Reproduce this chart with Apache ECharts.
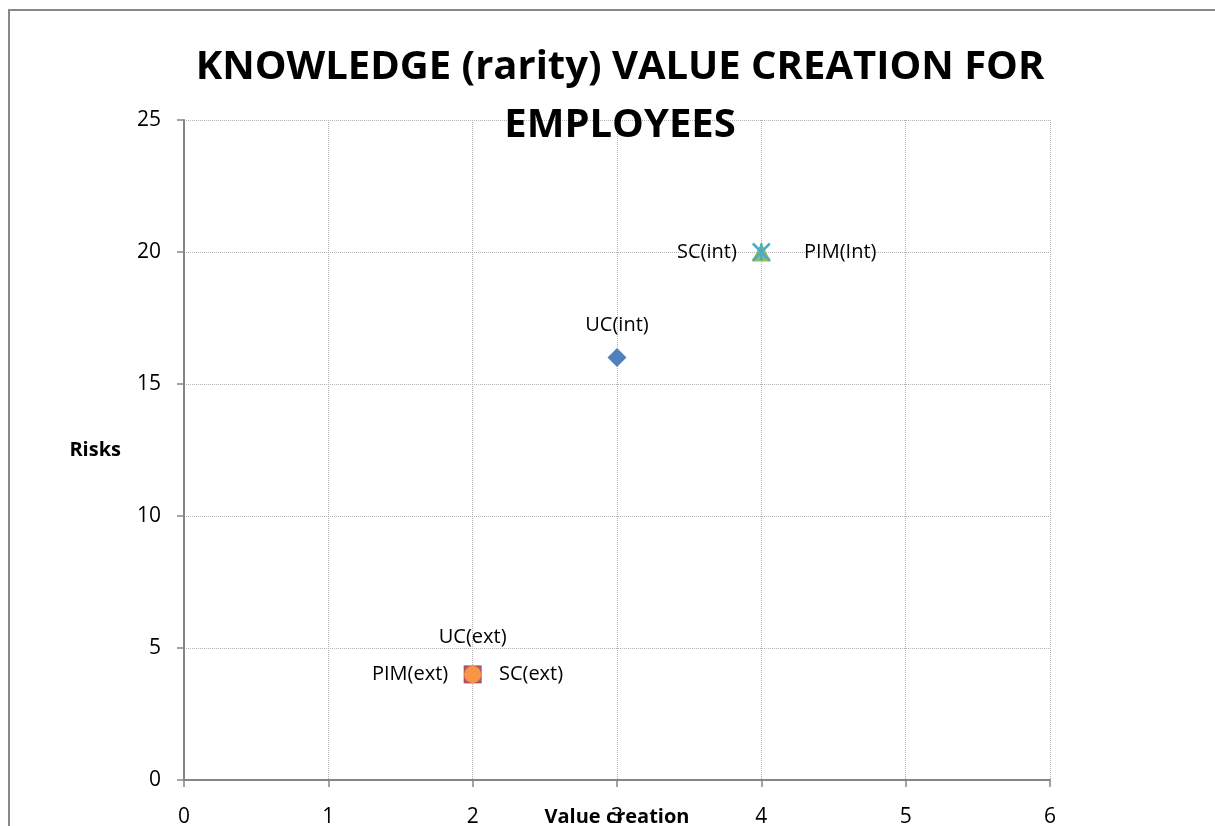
<!DOCTYPE html>
<html>
<head>
<meta charset="utf-8">
<script src="https://cdn.jsdelivr.net/npm/echarts@6/dist/echarts.min.js"></script>
<style>
  html, body { margin: 0; padding: 0; background: #fff; }
  #chart { width: 1215px; height: 826px; }
</style>
</head>
<body>
<div id="chart"></div>
<script>
// series data, one point each (Excel default series order)
const seriesNames = ['UC(int)', 'UC(ext)', 'SC(int)', 'SC(ext)', 'PIM(Int)', 'PIM(ext)']
const valueCreation = [3, 2, 4, 2, 4, 2]
const risks = [16, 4, 20, 4, 20, 4]
const xTicks = [0, 1, 2, 3, 4, 5, 6]
const yTicks = [0, 5, 10, 15, 20, 25]

const FONT = 'Open Sans'
const crossPath = 'path://M0,0L10,10M10,0L0,10'
const starPath = 'path://M0,0L10,10M10,0L0,10M5,0L5,10'

// marker look per series
const markers = [
  { symbol: 'diamond', size: 19, color: '#4F81BD', pos: 'top', dist: 13 },
  { symbol: 'rect', size: 18, color: '#C0504D', pos: 'top', dist: 18 },
  { symbol: 'triangle', size: 19, color: '#9BBB59', pos: 'left', dist: 15 },
  { symbol: crossPath, size: 16, color: '#8064A2', pos: 'right', dist: 17, stroke: true },
  { symbol: starPath, size: 17, color: '#4BACC6', pos: 'right', dist: 33, stroke: true },
  { symbol: 'circle', size: 17, color: '#F79646', pos: 'left', dist: 16 }
]

const series = seriesNames.map((name, i) => {
  const m = markers[i]
  return {
    name: name,
    type: 'scatter',
    data: [[valueCreation[i], risks[i]]],
    symbol: m.symbol,
    symbolSize: m.size,
    itemStyle: m.stroke
      ? { color: 'transparent', borderColor: m.color, borderWidth: 2.5, opacity: 1 }
      : { color: m.color, opacity: 1 },
    label: {
      show: true,
      formatter: name,
      position: m.pos,
      distance: m.dist,
      color: '#000',
      fontFamily: FONT,
      fontSize: 20
    },
    z: 2 + i
  }
})

const chart = echarts.init(document.getElementById('chart'))
chart.setOption({
  animation: false,
  title: {
    text: 'KNOWLEDGE (rarity) VALUE CREATION FOR\nEMPLOYEES',
    left: 615,
    textAlign: 'center',
    top: 34,
    textStyle: {
      fontFamily: FONT,
      fontWeight: 'bold',
      fontSize: 40,
      lineHeight: 58,
      color: '#000'
    }
  },
  graphic: [{
    type: 'polyline',
    shape: { points: [[9, 900], [9, 10], [1300, 10]] },
    style: { stroke: '#888', lineWidth: 2, fill: null },
    silent: true
  }],
  grid: { left: 184, right: 165, top: 120, bottom: 46, outerBoundsMode: 'none' },
  xAxis: {
    type: 'value',
    min: xTicks[0],
    max: xTicks[xTicks.length - 1],
    interval: 1,
    name: 'Value creation',
    nameLocation: 'middle',
    nameGap: 27,
    nameMoveOverlap: false,
    nameTextStyle: { fontFamily: FONT, fontWeight: 'bold', fontSize: 20, color: '#000' },
    axisLine: { lineStyle: { color: '#868686', width: 2 } },
    axisTick: { show: true, length: 7, lineStyle: { color: '#868686', width: 1.5 } },
    axisLabel: { margin: 27, fontFamily: FONT, fontSize: 21, color: '#000' },
    splitLine: { show: true, lineStyle: { color: '#b0b0b0', type: 'dotted', width: 1 } }
  },
  yAxis: {
    type: 'value',
    min: yTicks[0],
    max: yTicks[yTicks.length - 1],
    interval: 5,
    name: 'Risks',
    nameLocation: 'middle',
    nameRotate: 0,
    nameGap: 63,
    nameMoveOverlap: false,
    nameTextStyle: { fontFamily: FONT, fontWeight: 'bold', fontSize: 20, color: '#000' },
    axisLine: { show: true, lineStyle: { color: '#868686', width: 2 } },
    axisTick: { show: true, length: 7, lineStyle: { color: '#868686', width: 1.5 } },
    axisLabel: { margin: 23, fontFamily: FONT, fontSize: 21, color: '#000' },
    splitLine: { show: true, lineStyle: { color: '#b0b0b0', type: 'dotted', width: 1 } }
  },
  series: series
})
</script>
</body>
</html>
